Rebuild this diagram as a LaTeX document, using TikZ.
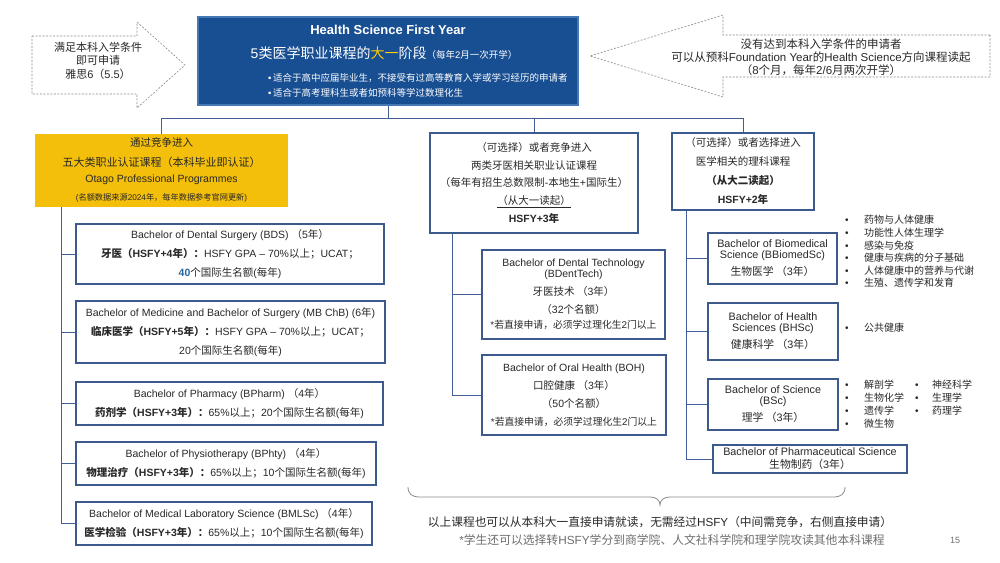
\documentclass[tikz,border=0pt]{standalone}
\usepackage{fontspec}
\setmainfont{Liberation Sans}[NFSSFamily=latfam]
\newfontfamily\cjkfont{Noto Sans CJK SC}[NFSSFamily=cjkfam]
\XeTeXinterchartokenstate=1
\ifdefined\newXeTeXintercharclass \newXeTeXintercharclass\cjkcls \else \chardef\cjkcls=7 \fi
\newcount\cjkc
\cjkc="4E00
\loop \XeTeXcharclass\cjkc=\cjkcls \ifnum\cjkc<"9FFF \advance\cjkc by 1 \repeat
\cjkc="3000
\loop \XeTeXcharclass\cjkc=\cjkcls \ifnum\cjkc<"303F \advance\cjkc by 1 \repeat
\cjkc="FF00
\loop \XeTeXcharclass\cjkc=\cjkcls \ifnum\cjkc<"FFEF \advance\cjkc by 1 \repeat
\XeTeXinterchartoks 0 \cjkcls = {\fontfamily{cjkfam}\selectfont}
\XeTeXinterchartoks 4095 \cjkcls = {\fontfamily{cjkfam}\selectfont}
\XeTeXinterchartoks \cjkcls 0 = {\fontfamily{latfam}\selectfont}
\XeTeXinterchartoks 4095 0 = {\fontfamily{latfam}\selectfont}
\newcommand\myfs[2]{\fontsize{#1}{#2}\selectfont}
\definecolor{topblue}{RGB}{24,78,146}
\definecolor{topedge}{RGB}{70,120,180}
\definecolor{gold}{RGB}{244,191,10}
\definecolor{hiyel}{RGB}{255,205,0}
\definecolor{boxline}{RGB}{60,90,140}
\definecolor{connc}{RGB}{65,95,150}
\definecolor{txt}{RGB}{40,40,40}
\definecolor{numblue}{RGB}{40,100,160}
\definecolor{dashc}{RGB}{140,140,140}
\definecolor{grayt}{RGB}{110,110,110}
\begin{document}
\begin{tikzpicture}[x=1pt,y=-1pt,
  lbox/.style={draw=boxline, line width=1.7pt, fill=white, inner sep=0pt, align=center, text=txt},
  conn/.style={draw=connc, line width=1pt},
  dasharr/.style={draw=dashc, line width=0.6pt, dash pattern=on 2pt off 1.5pt},
  tx/.style={inner sep=0pt, text=txt, align=center},
  bl/.style={inner sep=0pt, text=txt, align=left, anchor=west}]
\useasboundingbox (0,0) rectangle (1000,562);
\fill[white] (0,0) rectangle (1000,562);

% dashed arrows
\draw[dasharr] (32,36) -- (137,36) -- (137,22) -- (185,65) -- (137,108) -- (137,94) -- (32,94) -- cycle;
\node[tx, font=\myfs{11}{13.5}] (larr) at (98,60.5) {满足本科入学条件\\即可申请\\雅思6（5.5）};
\draw[dasharr] (990,35) -- (723,35) -- (723,15) -- (590,56) -- (723,97) -- (723,77) -- (990,77) -- cycle;
\node[tx, font=\myfs{11.5}{13}] (rarr) at (821,57) {没有达到本科入学条件的申请者\\可以从预科Foundation Year的Health Science方向课程读起\\（8个月，每年2/6月两次开学）};

% top box
\node[draw=topedge, fill=topblue, line width=1.2pt, minimum width=380pt, minimum height=88pt, inner sep=0pt] (top) at (388,61) {};
\node[inner sep=0pt, text=white, font=\myfs{13}{15}\bfseries] (toptitle) at (388,30) {Health Science First Year};
\node[inner sep=0pt, text=white] (topsub) at (384,53) {{\myfs{14}{16}5类医学职业课程的\textcolor{hiyel}{大一}阶段}{\myfs{9.5}{11}（每年2月一次开学）}};
\node[inner sep=0pt, text=white, anchor=west, font=\myfs{9.5}{11}] (topb1) at (268,78) {•\,适合于高中应届毕业生，不接受有过高等教育入学或学习经历的申请者};
\node[inner sep=0pt, text=white, anchor=west, font=\myfs{9.5}{11}] (topb2) at (268,93) {•\,适合于高考理科生或者如预科等学过数理化生};

% second row
\node[fill=gold, minimum width=253pt, minimum height=73pt, inner sep=0pt] (yel) at (161.5,170.5) {};
\node[tx, font=\myfs{10.5}{12}] (yel1) at (161.5,142) {通过竞争进入};
\node[tx, font=\myfs{11}{13}] (yel2) at (161.5,162) {五大类职业认证课程（本科毕业即认证）};
\node[tx, font=\myfs{10.5}{12}] (yel3) at (161.5,180) {Otago Professional Programmes};
\node[tx, font=\myfs{8.2}{10}] (yel4) at (161.5,198) {(名额数据来源2024年，每年数据参考官网更新)};

\node[lbox, minimum width=208pt, minimum height=100pt, font=\myfs{10.5}{17.8}] (mbox) at (534,183)
  {（可选择）或者竞争进入\\两类牙医相关职业认证课程\\（每年有招生总数限制-本地生+国际生）\\\underline{（从大一读起）}\\\textbf{HSFY+3年}};
\node[lbox, minimum width=142pt, minimum height=77pt, font=\myfs{10.5}{19}] (rbox) at (743,171.5)
  {（可选择）或者选择进入\\医学相关的理科课程\\\textbf{（从大二读起）}\\\textbf{HSFY+2年}};

% left column
\node[lbox, minimum width=308pt, minimum height=60pt, font=\myfs{10.5}{19}] (b1) at (230,254)
  {Bachelor of Dental Surgery (BDS) （5年）\\\textbf{牙医（HSFY+4年）：}HSFY GPA – 70\%以上；UCAT；\\\textcolor{numblue}{\textbf{40}}个国际生名额(每年)};
\node[lbox, minimum width=309pt, minimum height=62pt, font=\myfs{10.5}{19}] (b2) at (230.5,332)
  {Bachelor of Medicine and Bachelor of Surgery (MB ChB) (6年)\\\textbf{临床医学（HSFY+5年）：}HSFY GPA – 70\%以上；UCAT；\\20个国际生名额(每年)};
\node[lbox, minimum width=307pt, minimum height=43pt, font=\myfs{10.5}{19}] (b3) at (229.5,403.5)
  {Bachelor of Pharmacy (BPharm) （4年）\\\textbf{药剂学（HSFY+3年）：}65\%以上；20个国际生名额(每年)};
\node[lbox, minimum width=300pt, minimum height=43pt, font=\myfs{10.5}{19}] (b4) at (226,463.5)
  {Bachelor of Physiotherapy (BPhty) （4年）\\\textbf{物理治疗（HSFY+3年）：}65\%以上；10个国际生名额(每年)};
\node[lbox, minimum width=296pt, minimum height=43pt, font=\myfs{10.5}{19}] (b5) at (224,523.5)
  {Bachelor of Medical Laboratory Science (BMLSc) （4年）\\\textbf{医学检验（HSFY+3年）：}65\%以上；10个国际生名额(每年)};

% middle column
\node[lbox, minimum width=183pt, minimum height=89pt, font=\myfs{10.5}{18}] (dt) at (573.5,294.5)
  {Bachelor of Dental Technology\\[-7pt](BDentTech)\\牙医技术 （3年）\\（32个名额）\\[-3pt]{\myfs{9.8}{12}*若直接申请，必须学过理化生2门以上}};
\node[lbox, minimum width=184pt, minimum height=80pt, font=\myfs{10.5}{18}] (boh) at (574,395)
  {Bachelor of Oral Health (BOH)\\口腔健康 （3年）\\（50个名额）\\{\myfs{9.8}{12}*若直接申请，必须学过理化生2门以上}};

% right column
\node[lbox, minimum width=129pt, minimum height=51pt, font=\myfs{10.8}{17}] (bb) at (772.5,258.5)
  {Bachelor of Biomedical\\[-6pt]Science (BBiomedSc)\\生物医学 （3年）};
\node[lbox, minimum width=130pt, minimum height=57pt, font=\myfs{10.8}{17}] (bh) at (773,331.5)
  {Bachelor of Health\\[-6pt]Sciences (BHSc)\\健康科学 （3年）};
\node[lbox, minimum width=130pt, minimum height=51pt, font=\myfs{10.8}{17}] (bs) at (773,404.5)
  {Bachelor of Science\\[-6pt](BSc)\\理学 （3年）};
\node[lbox, minimum width=194pt, minimum height=28pt, font=\myfs{10.8}{13}] (bps) at (810,459)
  {Bachelor of Pharmaceutical Science\\生物制药（3年）};

% bullet lists
\node[bl, font=\myfs{10}{12.6}] (lst1) at (845,251.5)
  {\makebox[19pt][l]{•}药物与人体健康\\\makebox[19pt][l]{•}功能性人体生理学\\\makebox[19pt][l]{•}感染与免疫\\\makebox[19pt][l]{•}健康与疾病的分子基础\\\makebox[19pt][l]{•}人体健康中的营养与代谢\\\makebox[19pt][l]{•}生殖、遗传学和发育};
\node[bl, font=\myfs{10}{12.6}] (lst2) at (845,328) {\makebox[19pt][l]{•}公共健康};
\node[bl, font=\myfs{10}{13}] (lst3) at (845,404.5)
  {\makebox[19pt][l]{•}\makebox[51pt][l]{解剖学}\makebox[17pt][l]{•}神经科学\\\makebox[19pt][l]{•}\makebox[51pt][l]{生物化学}\makebox[17pt][l]{•}生理学\\\makebox[19pt][l]{•}\makebox[51pt][l]{遗传学}\makebox[17pt][l]{•}药理学\\\makebox[19pt][l]{•}微生物};

% connectors
\coordinate (bus) at (0,118);
\coordinate (lt) at (61,0);
\coordinate (mt) at (452,0);
\coordinate (rt) at (686,0);
\draw[conn] (top.south) -- (top.south |- bus);
\draw[conn] (yel.north |- bus) -- (rbox.north |- bus);
\draw[conn] (yel.north |- bus) -- (yel.north);
\draw[conn] (mbox.north |- bus) -- (mbox.north);
\draw[conn] (rbox.north |- bus) -- (rbox.north);
\draw[conn] (yel.south -| lt) -- (b5.west -| lt);
\foreach \bx in {b1,b2,b3,b4,b5} \draw[conn] (\bx.west -| lt) -- (\bx.west);
\draw[conn] (mbox.south -| mt) -- (boh.west -| mt);
\foreach \bx in {dt,boh} \draw[conn] (\bx.west -| mt) -- (\bx.west);
\draw[conn] (rbox.south -| rt) -- (bps.west -| rt);
\foreach \bx in {bb,bh,bs,bps} \draw[conn] (\bx.west -| rt) -- (\bx.west);

% brace and bottom notes
\draw[draw=dashc, line width=0.8pt] (408,487) .. controls (408,494) and (412,497) .. (420,497) -- (650,497) .. controls (656,497) and (660,500) .. (660,505) .. controls (660,500) and (664,497) .. (670,497) -- (833,497) .. controls (841,497) and (845,494) .. (845,487);
\node[tx, font=\myfs{11.7}{14}] (note1) at (660,522) {以上课程也可以从本科大一直接申请就读，无需经过HSFY（中间需竞争，右侧直接申请）};
\node[inner sep=0pt, text=grayt, font=\myfs{11.8}{13}] (note2) at (672,540) {*学生还可以选择转HSFY学分到商学院、人文社科学院和理学院攻读其他本科课程};
\node[inner sep=0pt, text=grayt, font=\myfs{9}{11}] (pg) at (955,540) {15};
\end{tikzpicture}
\end{document}
